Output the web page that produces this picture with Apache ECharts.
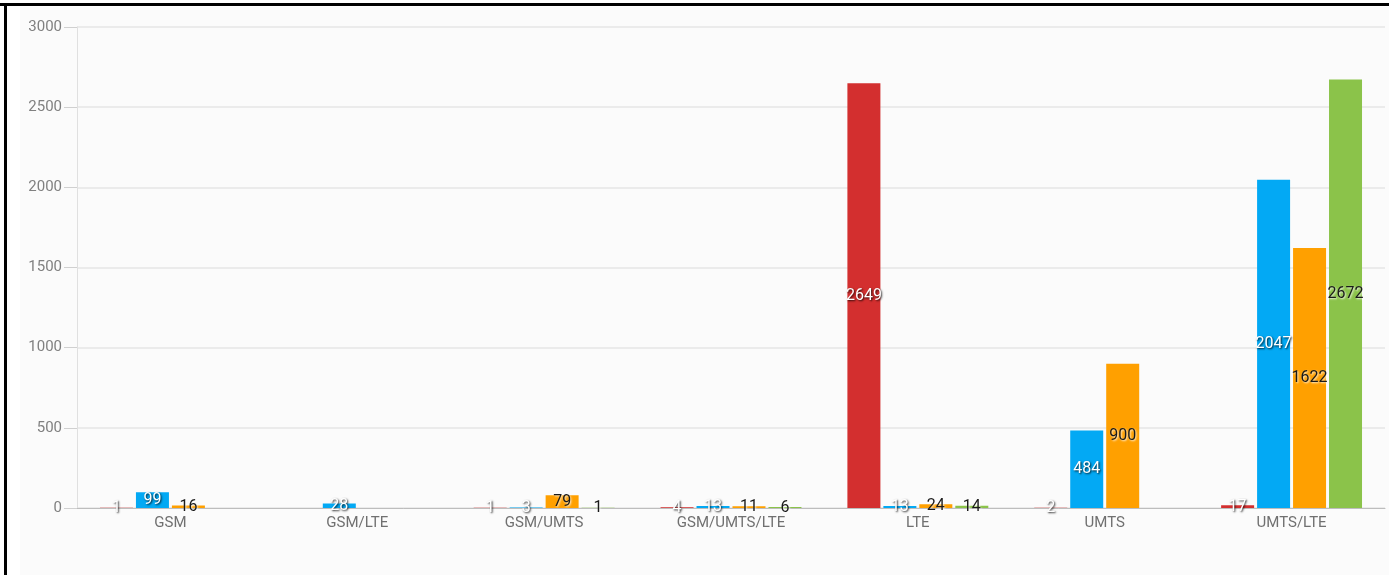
<!DOCTYPE html>
<html>
<head>
<meta charset="utf-8">
<style>
html,body{margin:0;padding:0;background:#fff;}
#chart{width:1389px;height:575px;}
</style>
<script src="https://cdn.jsdelivr.net/npm/echarts@6/dist/echarts.min.js"></script>
</head>
<body>
<div id="chart"></div>
<script>
var categories = ['GSM', 'GSM/LTE', 'GSM/UMTS', 'GSM/UMTS/LTE', 'LTE', 'UMTS', 'UMTS/LTE'];
var redValues = [1, null, 1, 4, 2649, 2, 17];
var blueValues = [99, 28, 3, 13, 13, 484, 2047];
var orangeValues = [16, null, 79, 11, 24, 900, 1622];
var greenValues = [null, null, 1, 6, 14, null, 2672];
var yTicks = {min: 0, max: 3000, interval: 500};

var FONT = 'Roboto, sans-serif';

function lightLabel() {
  return {
    show: true, position: 'inside', color: '#fff', fontFamily: FONT, fontSize: 16,
    textShadowColor: 'rgba(0,0,0,0.85)', textShadowBlur: 2, textShadowOffsetX: 1, textShadowOffsetY: 1
  };
}
function darkLabel() {
  return {
    show: true, position: 'inside', color: '#1a1a1a', fontFamily: FONT, fontSize: 16,
    textShadowColor: 'rgba(255,255,255,0.9)', textShadowBlur: 2, textShadowOffsetX: 1, textShadowOffsetY: 1
  };
}
function mkSeries(name, data, color, label) {
  return {
    name: name, type: 'bar', data: data, barWidth: 33, barGap: '9%',
    itemStyle: {color: color}, label: label
  };
}

var chart = echarts.init(document.getElementById('chart'));
chart.setOption({
  animation: false,
  backgroundColor: '#fff',
  graphic: [
    {type: 'rect', silent: true, z: -10, shape: {x: 20, y: 7, width: 1369, height: 568}, style: {fill: '#fbfbfb'}},
    {type: 'rect', silent: true, z: 100, shape: {x: 0, y: 3, width: 1389, height: 3}, style: {fill: '#000'}},
    {type: 'rect', silent: true, z: 100, shape: {x: 4, y: 3, width: 3, height: 572}, style: {fill: '#000'}}
  ],
  grid: {left: 77, right: 4, top: 27, bottom: 67, containLabel: false},
  xAxis: {
    type: 'category', data: categories,
    axisLine: {show: true, lineStyle: {color: '#bdbdbd', width: 1}},
    axisTick: {show: false},
    axisLabel: {color: '#707070', fontFamily: FONT, fontSize: 15, margin: 8}
  },
  yAxis: {
    type: 'value', min: yTicks.min, max: yTicks.max, interval: yTicks.interval,
    axisLine: {show: true, lineStyle: {color: '#e0e0e0'}},
    axisTick: {show: true, length: 13, lineStyle: {color: '#d0d0d0'}},
    axisLabel: {color: '#808080', fontFamily: FONT, fontSize: 15, margin: 15,
      formatter: function (v) { return String(v); }},
    splitLine: {show: true, lineStyle: {color: '#e6e6e6', width: 1.5}}
  },
  series: [
    mkSeries('red', redValues, '#d32f2f', lightLabel()),
    mkSeries('blue', blueValues, '#03a9f4', lightLabel()),
    mkSeries('orange', orangeValues, '#ffa000', darkLabel()),
    mkSeries('green', greenValues, '#8bc34a', darkLabel())
  ]
});
</script>
</body>
</html>
